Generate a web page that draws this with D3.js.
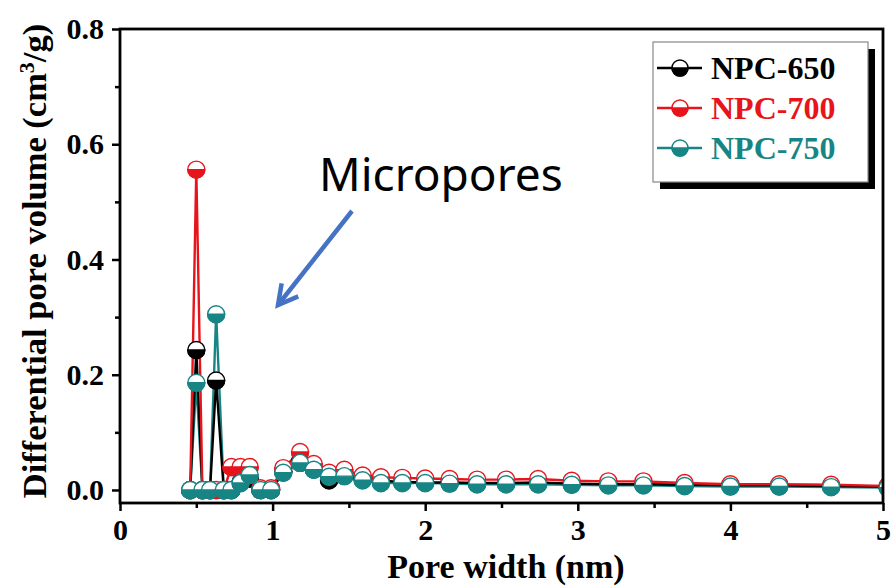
<!DOCTYPE html>
<meta charset="utf-8">
<script src="https://d3js.org/d3.v7.min.js"></script>
<style>
  body { margin: 0; background: #fff; }
  text { font-family: "Liberation Serif", "Times New Roman", serif; font-weight: bold; }
</style>
<div id="chart"></div>
<script>

// pore width (nm)
var poreWidth = [0.46,0.50,0.54,0.59,0.63,0.68,0.73,0.79,0.85,0.92,0.99,1.07,1.18,1.27,1.37,1.47,
                 1.59,1.71,1.85,2.00,2.16,2.34,2.53,2.74,2.96,3.20,3.43,3.70,4.00,4.32,4.66,5.03];
// differential pore volume (cm3/g)
var npc650 = [0,0.243,0,0,0.190,0,0,0.014,0.020,0,0,0.032,0.050,0.036,0.017,0.025,
              0.020,0.016,0.014,0.013,0.013,0.012,0.012,0.013,0.011,0.010,0.010,0.009,0.008,0.008,0.007,0.006];
var npc700 = [0,0.556,0,0,0,0,0.040,0.040,0.040,0.003,0.003,0.038,0.066,0.045,0.030,0.035,
              0.025,0.022,0.021,0.020,0.019,0.018,0.018,0.019,0.016,0.015,0.015,0.012,0.010,0.010,0.009,0.007];
var npc750 = [0,0.186,0,0,0.305,0,0,0.012,0.026,0,0,0.030,0.047,0.035,0.023,0.024,
              0.017,0.012,0.012,0.012,0.011,0.010,0.010,0.010,0.009,0.008,0.008,0.007,0.006,0.006,0.005,0.004];

var seriesNames = ["NPC-650","NPC-700","NPC-750"];
var seriesColors = ["#000000","#e8141c","#188585"];
var xTicks = [0,1,2,3,4,5];
var yTicks = [0.0,0.2,0.4,0.6,0.8];

var series = [npc650, npc700, npc750].map(function(v, i) {
  return {name: seriesNames[i], color: seriesColors[i],
          values: v.map(function(d, j) { return [poreWidth[j], d]; })};
});

var W = 893, H = 587;
var pLeft = 120, pRight = 883, pTop = 29, pBottom = 503;

var svg = d3.select("#chart").append("svg")
  .attr("width", W).attr("height", H);

var x = d3.scaleLinear().domain([0, 5]).range([pLeft, pRight]);
var y = d3.scaleLinear().domain([-0.0226, 0.8]).range([pBottom, pTop]);

svg.append("clipPath").attr("id", "plotclip")
  .append("rect").attr("x", pLeft).attr("y", pTop)
  .attr("width", pRight - pLeft).attr("height", pBottom - pTop);

// half-filled circle marker
function marker(g, color, r) {
  g.append("circle").attr("r", r).attr("fill", "#fff")
    .attr("stroke", color).attr("stroke-width", 1.4);
  g.append("path")
    .attr("d", "M" + (-r) + ",0 A" + r + "," + r + " 0 0,0 " + r + ",0 Z")
    .attr("fill", color).attr("stroke", color).attr("stroke-width", 1.4);
}

var plot = svg.append("g").attr("clip-path", "url(#plotclip)");
var line = d3.line().x(function(d) { return x(d[0]); }).y(function(d) { return y(d[1]); });

// lines first (teal under, red on top), then markers
[2, 0, 1].forEach(function(i) {
  plot.append("path").datum(series[i].values)
    .attr("fill", "none").attr("stroke", series[i].color)
    .attr("stroke-width", 2.4).attr("d", line);
});
series.forEach(function(s) {
  plot.selectAll(null).data(s.values).enter().append("g")
    .attr("transform", function(d) { return "translate(" + x(d[0]) + "," + y(d[1]) + ")"; })
    .each(function() { marker(d3.select(this), s.color, 8.5); });
});

// axes
var xAxis = svg.append("g").attr("transform", "translate(0," + pBottom + ")")
  .call(d3.axisBottom(x).tickValues(xTicks).tickFormat(d3.format("d")).tickSize(8).tickPadding(5));
svg.append("g").attr("transform", "translate(0," + pBottom + ")")
  .call(d3.axisBottom(x).tickValues([0.5,1.5,2.5,3.5,4.5]).tickFormat("").tickSize(5));
var yAxis = svg.append("g").attr("transform", "translate(" + pLeft + ",0)")
  .call(d3.axisLeft(y).tickValues(yTicks).tickFormat(d3.format(".1f")).tickSize(8).tickPadding(8));
svg.append("g").attr("transform", "translate(" + pLeft + ",0)")
  .call(d3.axisLeft(y).tickValues([0.1,0.3,0.5,0.7]).tickFormat("").tickSize(5));

svg.selectAll(".domain").remove();
svg.selectAll(".tick line").attr("stroke", "#000").attr("stroke-width", 2.5);
svg.selectAll(".tick text").attr("fill", "#000").style("font-size", "30px")
  .style("font-family", "'Liberation Serif', serif").style("font-weight", "bold");
xAxis.selectAll(".tick text").attr("dy", "0.8em");

// frame
svg.append("rect").attr("x", pLeft).attr("y", pTop)
  .attr("width", pRight - pLeft).attr("height", pBottom - pTop)
  .attr("fill", "none").attr("stroke", "#000").attr("stroke-width", 2.8);

// axis titles
svg.append("text").attr("x", 506).attr("y", 578).attr("text-anchor", "middle")
  .style("font-size", "34px").text("Pore width (nm)");

var yl = svg.append("text").attr("transform", "translate(46,261) rotate(-90)")
  .attr("text-anchor", "middle").style("font-size", "34.5px");
yl.append("tspan").text("Differential pore volume (cm");
yl.append("tspan").attr("baseline-shift", "super").style("font-size", "22px").text("3");
yl.append("tspan").text("/g)");

// annotation
svg.append("text").attr("x", 319).attr("y", 191)
  .style("font-family", "'Noto Sans', 'Open Sans', sans-serif").style("font-weight", "normal")
  .style("font-size", "46px").text("Micropores");

var ax0 = 352, ay0 = 211, ax1 = 278, ay1 = 305;
var ang = Math.atan2(ay1 - ay0, ax1 - ax0), hl = 22, ha = 0.5;
svg.append("line").attr("x1", ax0).attr("y1", ay0).attr("x2", ax1).attr("y2", ay1)
  .attr("stroke", "#4472c4").attr("stroke-width", 4.5);
svg.append("polyline")
  .attr("points", [
    [ax1 - hl * Math.cos(ang - ha), ay1 - hl * Math.sin(ang - ha)],
    [ax1, ay1],
    [ax1 - hl * Math.cos(ang + ha), ay1 - hl * Math.sin(ang + ha)]
  ].map(function(p) { return p.join(","); }).join(" "))
  .attr("fill", "none").attr("stroke", "#4472c4").attr("stroke-width", 4.5)
  .attr("stroke-linejoin", "miter");

// legend
var lg = svg.append("g");
lg.append("rect").attr("x", 660).attr("y", 49).attr("width", 215).attr("height", 140).attr("fill", "#000");
lg.append("rect").attr("x", 653).attr("y", 42).attr("width", 215).attr("height", 140)
  .attr("fill", "#fff").attr("stroke", "#888").attr("stroke-width", 1.2);
series.forEach(function(s, i) {
  var cy = 68 + i * 40;
  var row = lg.append("g").attr("transform", "translate(0," + cy + ")");
  row.append("line").attr("x1", 657).attr("x2", 702).attr("stroke", s.color).attr("stroke-width", 2.5);
  var m = row.append("g").attr("transform", "translate(680,0)");
  marker(m, s.color, 8);
  row.append("text").attr("x", 711).attr("y", 11).attr("fill", s.color)
    .style("font-size", "32px").text(s.name);
});

</script>
